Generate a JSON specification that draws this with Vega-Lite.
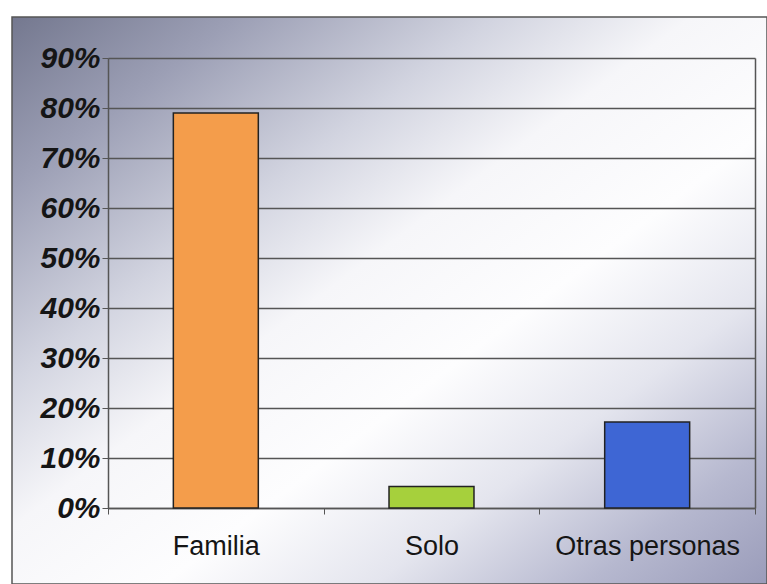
{
  "$schema": "https://vega.github.io/schema/vega-lite/v6.json",
  "width": 755,
  "height": 567,
  "autosize": "none",
  "padding": {"left": 12, "top": 17, "right": 0, "bottom": 0},
  "background": "#ffffff",
  "config": {
    "view": {
      "fill": {
        "gradient": "linear",
        "x1": 0, "y1": 0, "x2": 1, "y2": 1,
        "stops": [
          {"offset": 0, "color": "#74788f"},
          {"offset": 0.15, "color": "#9c9fb5"},
          {"offset": 0.32, "color": "#d2d4e0"},
          {"offset": 0.45, "color": "#f6f6f9"},
          {"offset": 0.6, "color": "#fdfdfe"},
          {"offset": 0.74, "color": "#e4e5ee"},
          {"offset": 0.88, "color": "#b6b8cf"},
          {"offset": 1, "color": "#9a9cba"}
        ]
      },
      "stroke": "#555555",
      "strokeWidth": 1.5
    }
  },
  "data": {
    "values": [
      {"cat": "Familia", "value": 0.79},
      {"cat": "Solo", "value": 0.043},
      {"cat": "Otras personas", "value": 0.172}
    ]
  },
  "layer": [
    {
      "mark": {"type": "bar", "width": {"band": 0.394}, "stroke": "#222222", "strokeWidth": 1.5},
      "encoding": {
        "x": {
          "field": "cat", "type": "nominal", "sort": null,
          "scale": {"range": [96, 743], "paddingInner": 0, "paddingOuter": 0},
          "axis": {
            "title": null, "orient": "bottom", "offset": -76,
            "labelAngle": 0, "labelFont": "Liberation Sans", "labelFontSize": 27,
            "labelColor": "#151515", "labelPadding": 19, "labelLimit": 0,
            "tickBand": "extent", "tickSize": 6, "tickColor": "#555555",
            "domainColor": "#555555", "domainWidth": 1.5, "grid": false
          }
        },
        "y": {
          "field": "value", "type": "quantitative",
          "scale": {"domain": [0, 0.9], "range": [491, 41], "nice": false, "zero": true},
          "axis": {
            "title": null, "orient": "left", "offset": -96,
            "values": [0, 0.1, 0.2, 0.3, 0.4, 0.5, 0.6, 0.7, 0.8, 0.9],
            "format": ".0%",
            "labelFont": "Liberation Sans", "labelFontSize": 30,
            "labelFontWeight": "bold", "labelFontStyle": "italic",
            "labelColor": "#151515", "labelPadding": 2,
            "tickSize": 6, "tickColor": "#555555",
            "domainColor": "#555555", "domainWidth": 1.5,
            "grid": true, "gridColor": "#555555", "gridWidth": 1.3
          }
        },
        "color": {
          "field": "cat", "type": "nominal",
          "scale": {"domain": ["Familia", "Solo", "Otras personas"], "range": ["#f49d4b", "#a6d03c", "#3e66d4"]},
          "legend": null
        }
      }
    },
    {
      "mark": {"type": "point", "opacity": 0},
      "encoding": {
        "y": {
          "field": "value", "type": "quantitative",
          "axis": {
            "title": null, "orient": "right", "offset": -12,
            "labels": false, "ticks": false, "grid": false,
            "domainColor": "#555555", "domainWidth": 1.5
          }
        }
      }
    }
  ],
  "resolve": {"axis": {"y": "independent"}}
}
